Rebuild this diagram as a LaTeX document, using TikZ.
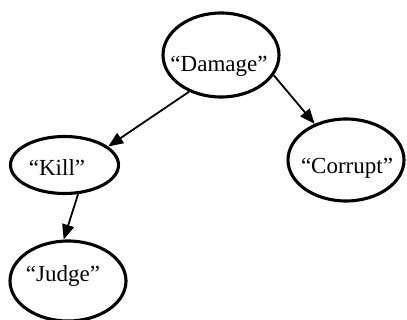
\documentclass[tikz,border=0pt]{standalone}
\usepackage{fontspec}
\setmainfont{Liberation Serif}
\usetikzlibrary{shapes.geometric,arrows.meta}
\begin{document}
\begin{tikzpicture}[x=1pt,y=-1pt,
  ell/.style={draw=black,ellipse,line width=3.1pt,inner sep=0pt},
  lab/.style={anchor=base,inner sep=0pt,font=\fontsize{23}{23}\selectfont},
  arr/.style={line width=1.8pt,-{Triangle[length=15pt,width=12pt]}}]
\useasboundingbox[fill=white] (0,0) rectangle (407,320);
\node[ell,minimum width=116pt,minimum height=84pt] (damage) at (221,55) {};
\node[ell,minimum width=108pt,minimum height=57pt] (kill) at (64.5,165) {};
\node[ell,minimum width=116pt,minimum height=82pt] (corrupt) at (346,160) {};
\node[ell,minimum width=116pt,minimum height=80pt] (judge) at (68,281) {};
\node[lab] (tdamage) at (219,72) {“Damage”};
\node[lab] (tkill) at (57,176) {“Kill”};
\node[lab] (tcorrupt) at (347,174) {“Corrupt”};
\node[lab] (tjudge) at (63,282) {“Judge”};
\draw[arr] (damage.229) -- (kill.23);
\draw[arr] (damage.339.7) -- (corrupt.131);
\draw[arr] (kill.295) -- (judge.96.6);
\end{tikzpicture}
\end{document}
